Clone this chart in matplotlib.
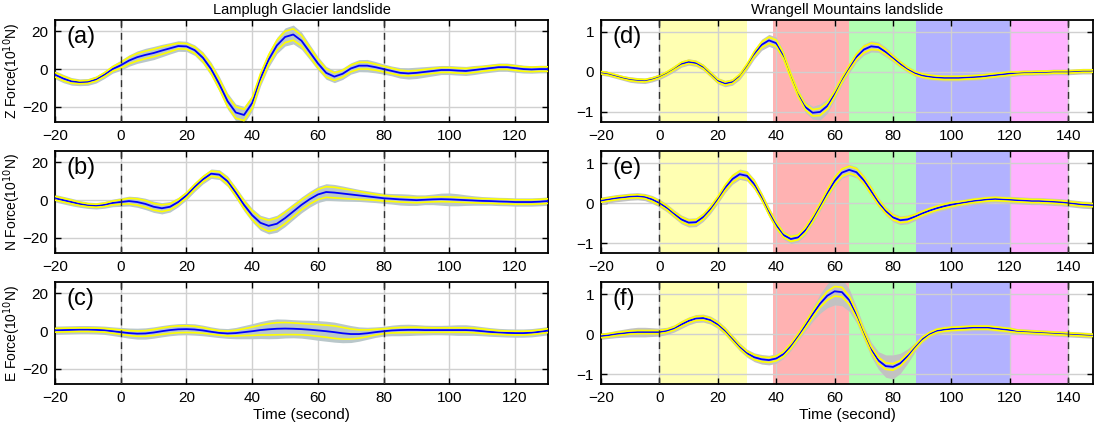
import numpy as np
import matplotlib
matplotlib.use("Agg")
import matplotlib.pyplot as plt

plt.rcParams['font.family'] = ['Liberation Sans', 'DejaVu Sans']

# ---- time axes ----
t_left = np.arange(-20, 130.01, 2.5)    # Lamplugh Glacier
t_right = np.arange(-20, 150.01, 2.5)   # Wrangell Mountains

# ---- Lamplugh Glacier (10^10 N) : mean, std (yellow), ensemble spread (grey) ----
z_mean = [-3, -5, -6.5, -7, -6.8, -5.5, -3, 0, 2, 4.5, 6.3, 7.5, 8.5, 9.8, 11, 12.2, 12,
          10, 6, 0, -8, -17, -23, -24.3, -18, -5, 5, 12.5, 17, 18.3, 15, 9, 3,
          -2, -4, -2.5, 0.3, 1.8, 1.8, 1, 0, -1, -2, -2.3, -2, -1.5, -1, -0.5,
          -0.5, -0.8, -1, -0.5, 0, 0.5, 1, 1, 0.5, 0, -0.2, 0, 0]
z_std = [1.2, 1.2, 1.0, 0.8, 0.8, 0.9, 1.0,
         1.2, 1.5, 1.8, 2, 2, 2, 2, 1.8, 1.5, 1.5,
         1.7, 2, 2.3, 2.6, 2.8, 3, 3, 2.8, 2.5, 2.5, 2.7, 3, 3, 2.8, 2.5, 2.3,
         2.2, 2, 1.8, 1.8, 1.8, 1.8, 1.6, 1.5,
         1.4, 1.4, 1.3, 1.3, 1.3, 1.3, 1.3, 1.3, 1.3, 1.3, 1.3, 1.2, 1.2, 1.2, 1.2, 1.2, 1.2, 1.2, 1.2, 1.2]
z_spread = [2.2, 2.2, 2, 1.8, 1.8, 1.9, 2,
            2.2, 2.7, 3, 3.3, 3.5, 3.5, 3.3, 3, 2.8, 2.7,
            2.8, 3.2, 3.6, 4, 4.3, 4.5, 4.5, 4.3, 4, 4, 4.3, 4.8, 5, 4.6, 4, 3.6,
            3.4, 3.2, 3, 3, 3.2, 3.3, 3, 2.7,
            2.6, 2.8, 3, 3, 2.8, 2.6, 2.4, 2.4, 2.4, 2.4, 2.4, 2.2, 2.2, 2.2, 2.2, 2.2, 2.1, 2, 2, 2]

n_mean = [1, 0, -1, -2, -2.7, -3, -2.5, -1.5, -1, -0.5, -1, -2, -3.5, -4.3, -3.5, -1, 2.5,
          7, 11, 14, 13.5, 10, 4, -2.5, -8, -12, -13.6, -12.5, -9.5, -6, -2.5, 0.5, 3,
          4.3, 4, 3.5, 3, 2.5, 2, 1.5, 1,
          0.7, 0.4, 0.2, 0, 0.2, 0.4, 0.5, 0.4, 0.2, 0, -0.2, -0.4, -0.5, -0.7, -0.8, -1, -1, -1, -0.8, -0.5]
n_std = [1, 1, 1, 0.9, 0.8, 0.8, 0.9,
         1, 1.2, 1.5, 1.7, 1.8, 1.8, 1.8, 1.6, 1.4, 1.3,
         1.3, 1.3, 1.4, 1.5, 1.6, 1.8, 2, 2.3, 2.6, 2.9, 3, 3, 2.8, 2.6, 2.6, 2.7,
         2.8, 2.8, 2.6, 2.4, 2.1, 1.8, 1.6, 1.5,
         1.4, 1.4, 1.4, 1.4, 1.3, 1.3, 1.3, 1.3, 1.3, 1.3, 1.2, 1.2, 1.2, 1.2, 1.2, 1.2, 1.2, 1.2, 1.2, 1.2]
n_spread = [2, 2, 2, 1.8, 1.7, 1.7, 1.8,
            2, 2.3, 2.6, 2.8, 3, 3, 3, 2.8, 2.5, 2.4,
            2.4, 2.4, 2.5, 2.6, 2.8, 3, 3.3, 3.6, 4, 4.3, 4.5, 4.5, 4.3, 4.2, 4.2, 4.3,
            4.4, 4.3, 4, 3.6, 3.2, 3, 2.8, 2.7,
            2.8, 3, 3, 2.8, 2.6, 2.8, 3.2, 3.4, 3.2, 2.8, 2.5, 2.3, 2.2, 2.2, 2.2, 2.2, 2.2, 2.2, 2.2, 2.2]

e_mean = [0.5, 0.6, 0.7, 0.8, 0.8, 0.7, 0.5, 0, -0.5, -1, -1.3, -1.2, -0.7, 0, 0.6, 1, 1.1,
          0.9, 0.4, -0.3, -0.9, -1.2, -1, -0.5, 0, 0.6, 1, 1.3, 1.4, 1.3, 1.1, 0.8, 0.4,
          0, -0.5, -1.1, -1.5, -1.5, -1.1, -0.5, 0,
          0.4, 0.6, 0.7, 0.7, 0.6, 0.6, 0.6, 0.6, 0.6, 0.6, 0.4, 0, -0.4, -0.7, -0.9, -1, -1, -0.8, -0.3, 0.3]
e_std = [1, 1, 1, 1, 1, 1, 1,
         1.1, 1.2, 1.3, 1.4, 1.5, 1.6, 1.7, 1.8, 1.8, 1.8,
         1.7, 1.5, 1.3, 1.2, 1.3, 1.5, 1.8, 2.2, 2.6, 3, 3.2, 3.2, 3.1, 3, 3, 3.1,
         3.2, 3.3, 3.1, 2.7, 2.2, 1.8, 1.5, 1.3,
         1.3, 1.4, 1.4, 1.4, 1.3, 1.2, 1.2, 1.2, 1.2, 1.2, 1.2, 1.2, 1.1, 1, 1, 1, 1, 1, 1, 1]
e_spread = [2.2, 2.2, 2.2, 2.2, 2.2, 2.2, 2.2,
            2.3, 2.5, 2.7, 2.9, 3, 3, 3, 3, 3, 3,
            3, 2.8, 2.6, 2.5, 2.6, 3, 3.5, 4, 4.5, 5, 5.2, 5, 4.8, 4.8, 5, 5.2,
            5.3, 5.3, 5, 4.5, 3.8, 3.2, 2.8, 2.6,
            2.8, 3, 3, 2.8, 2.6, 2.5, 2.5, 2.6, 2.8, 2.8, 2.6, 2.4, 2.3, 2.2, 2.2, 2.2, 2.2, 2.2, 2.2, 2.2]

# ---- Wrangell Mountains (normalised) ----
wz_mean = [-0.02, -0.05, -0.1, -0.15, -0.19, -0.21, -0.22, -0.18, -0.12,
           -0.03, 0.08, 0.2, 0.25, 0.22, 0.12, -0.05, -0.22,
           -0.29, -0.25, -0.1, 0.15, 0.45, 0.68, 0.79, 0.72,
           0.4, -0.1, -0.55, -0.88, -1.02, -1.0, -0.85, -0.55,
           -0.2, 0.1, 0.38, 0.56, 0.64, 0.62, 0.5, 0.35,
           0.2, 0.07, -0.03, -0.09, -0.12, -0.14, -0.15, -0.15,
           -0.15, -0.14, -0.13, -0.12, -0.1, -0.08, -0.06, -0.04,
           -0.03, -0.02, -0.02, -0.01, -0.01, 0, 0, 0,
           0.01, 0.02, 0.02, 0.03]
wz_std = [0.03] * 9 + [0.03, 0.03, 0.04, 0.04, 0.04, 0.04, 0.04, 0.04] + \
         [0.04, 0.04, 0.04, 0.05, 0.06, 0.07, 0.08, 0.08] + \
         [0.07, 0.06, 0.06, 0.07, 0.08, 0.09, 0.08, 0.07] + \
         [0.06, 0.06, 0.07, 0.08, 0.08, 0.07, 0.06, 0.05] + \
         [0.05, 0.04, 0.04, 0.04, 0.04, 0.04, 0.04, 0.04] + [0.04] * 8 + [0.03] * 8 + [0.03] * 4
wz_spread = [0.06, 0.06, 0.06, 0.06, 0.07, 0.07, 0.07, 0.07, 0.07] + \
            [0.07, 0.08, 0.08, 0.08, 0.08, 0.08, 0.08, 0.08] + \
            [0.08, 0.08, 0.09, 0.1, 0.12, 0.14, 0.15, 0.15] + \
            [0.14, 0.12, 0.12, 0.14, 0.16, 0.2, 0.18, 0.15] + \
            [0.12, 0.12, 0.13, 0.14, 0.14, 0.13, 0.12, 0.1] + \
            [0.09, 0.08, 0.08, 0.08, 0.08, 0.08, 0.08, 0.08] + [0.08] * 8 + [0.07] * 8 + [0.07] * 4

wn_mean = [0.06, 0.09, 0.12, 0.14, 0.16, 0.17, 0.15, 0.09, 0.0,
           -0.12, -0.27, -0.41, -0.49, -0.48, -0.35, -0.15, 0.1,
           0.38, 0.6, 0.72, 0.68, 0.47, 0.15, -0.22, -0.55,
           -0.8, -0.9, -0.86, -0.68, -0.4, -0.08, 0.25, 0.55,
           0.76, 0.83, 0.77, 0.57, 0.3, 0.02, -0.2, -0.36,
           -0.43, -0.41, -0.34, -0.26, -0.19, -0.13, -0.08, -0.04,
           -0.01, 0.02, 0.05, 0.07, 0.09, 0.1, 0.09, 0.08,
           0.07, 0.06, 0.05, 0.05, 0.04, 0.03, 0.02, 0.0,
           -0.02, -0.04, -0.05, -0.06]
wn_std = [0.04, 0.04, 0.04, 0.04, 0.04, 0.04, 0.04, 0.05, 0.05] + \
         [0.05, 0.05, 0.06, 0.06, 0.06, 0.06, 0.06, 0.06] + \
         [0.07, 0.08, 0.08, 0.08, 0.08, 0.07, 0.07, 0.07] + \
         [0.06, 0.06, 0.06, 0.07, 0.07, 0.07, 0.08, 0.09] + \
         [0.09, 0.09, 0.09, 0.08, 0.08, 0.07, 0.06, 0.06] + \
         [0.06, 0.06, 0.05, 0.05, 0.05, 0.05, 0.05, 0.05] + [0.04] * 8 + [0.04] * 8 + [0.04] * 4
wn_spread = [0.09, 0.09, 0.09, 0.09, 0.09, 0.09, 0.09, 0.1, 0.1] + \
            [0.1, 0.1, 0.11, 0.11, 0.11, 0.11, 0.11, 0.11] + \
            [0.12, 0.13, 0.13, 0.13, 0.13, 0.12, 0.12, 0.12] + \
            [0.11, 0.11, 0.11, 0.12, 0.12, 0.12, 0.13, 0.14] + \
            [0.14, 0.14, 0.14, 0.13, 0.13, 0.12, 0.11, 0.11] + \
            [0.11, 0.11, 0.1, 0.1, 0.1, 0.1, 0.1, 0.1] + [0.09] * 8 + [0.09] * 8 + [0.09] * 4

we_mean = [-0.05, -0.03, 0.0, 0.02, 0.04, 0.05, 0.05, 0.05, 0.05,
           0.08, 0.14, 0.24, 0.33, 0.39, 0.4, 0.35, 0.24,
           0.08, -0.12, -0.32, -0.48, -0.58, -0.63, -0.65, -0.61,
           -0.5, -0.3, -0.05, 0.22, 0.5, 0.76, 0.96, 1.07,
           1.05, 0.85, 0.48, 0.03, -0.38, -0.66, -0.8, -0.82,
           -0.73, -0.55, -0.33, -0.13, 0.0, 0.08, 0.11, 0.13,
           0.14, 0.15, 0.16, 0.16, 0.16, 0.14, 0.12, 0.1,
           0.07, 0.06, 0.05, 0.04, 0.03, 0.02, 0.01, 0.0,
           -0.01, -0.02, -0.03, -0.03]
we_std = [0.04] * 9 + [0.04, 0.04, 0.05, 0.05, 0.05, 0.05, 0.05, 0.05] + \
         [0.05, 0.05, 0.05, 0.05, 0.06, 0.06, 0.06, 0.06] + \
         [0.06, 0.06, 0.06, 0.07, 0.08, 0.09, 0.11, 0.12] + \
         [0.12, 0.1, 0.08, 0.07, 0.07, 0.08, 0.08, 0.08] + \
         [0.07, 0.06, 0.05, 0.05, 0.04, 0.04, 0.04, 0.04] + [0.04] * 8 + [0.03] * 8 + [0.03] * 4
we_spread = [0.08, 0.08, 0.09, 0.1, 0.11, 0.12, 0.12, 0.11, 0.1] + \
            [0.09, 0.09, 0.1, 0.1, 0.1, 0.1, 0.1, 0.1] + \
            [0.1, 0.1, 0.1, 0.1, 0.11, 0.12, 0.12, 0.12] + \
            [0.11, 0.11, 0.12, 0.14, 0.18, 0.24, 0.3, 0.34] + \
            [0.34, 0.28, 0.2, 0.16, 0.18, 0.22, 0.28, 0.3] + \
            [0.25, 0.18, 0.12, 0.1, 0.09, 0.09, 0.09, 0.09] + [0.08] * 8 + [0.07] * 8 + [0.07] * 4

# stage shading for Wrangell (start, end, colour)
stages = [(0, 30, (1, 1, 0)), (39, 65, (1, 0, 0)), (65, 88, (0, 1, 0)),
          (88, 120, (0, 0, 1)), (120, 140, (1, 0, 1))]

left_panels = [("(a)", "Z", z_mean, z_std, z_spread),
               ("(b)", "N", n_mean, n_std, n_spread),
               ("(c)", "E", e_mean, e_std, e_spread)]
right_panels = [("(d)", wz_mean, wz_std, wz_spread),
                ("(e)", wn_mean, wn_std, wn_spread),
                ("(f)", we_mean, we_std, we_spread)]


def style_axis(ax):
    ax.tick_params(direction="in", top=True, right=True, length=4, width=1,
                   labelsize=11, pad=5)
    ax.grid(True, color="#d0d0d0", linewidth=1)
    for s in ax.spines.values():
        s.set_linewidth(1.3)


def draw(ax, t, m, sd, sp, grey):
    m = np.array(m)
    sd = np.array(sd)
    sp = np.array(sp)
    ax.fill_between(t, m - sp, m + sp, color=grey, lw=0, zorder=2)
    ax.plot(t, m, color="blue", lw=1.3, zorder=3)
    ax.plot(t, m + sd, color="#ffff00", lw=1.2, zorder=4)
    ax.plot(t, m - sd, color="#ffff00", lw=1.2, zorder=4)


fig = plt.figure(figsize=(10.94, 4.34), dpi=100)
bottoms = [0.719, 0.417, 0.115]
h = 0.235

for i, (lab, comp, m, sd, sp) in enumerate(left_panels):
    ax = fig.add_axes([0.0503, bottoms[i], 0.4506, h])
    draw(ax, t_left, m, sd, sp, "#b9c7ca")
    for x in [0, 80]:
        ax.axvline(x, color="#333333", lw=1, ls=(0, (5, 3.5)), zorder=5)
    ax.set_xlim(-20, 130)
    ax.set_ylim(-28, 26)
    ax.set_xticks(range(-20, 121, 20))
    ax.set_yticks([-20, 0, 20])
    style_axis(ax)
    ax.set_ylabel(comp + " Force(10$^{10}$N)", fontsize=10)
    ax.yaxis.set_label_coords(-0.065, 0.5)
    ax.text(0.023, 0.83, lab, transform=ax.transAxes, fontsize=17, va="center")
    if i == 2:
        ax.set_xlabel("Time (second)", fontsize=11, labelpad=2)

for i, (lab, m, sd, sp) in enumerate(right_panels):
    ax = fig.add_axes([0.5494, bottoms[i], 0.4497, h])
    for x0, x1, c in stages:
        ax.axvspan(x0, x1, color=c, alpha=0.3, lw=0, zorder=1)
    draw(ax, t_right, m, sd, sp, "#c2c2c2")
    for x in [0, 140]:
        ax.axvline(x, color="#333333", lw=1, ls=(0, (5, 3.5)), zorder=5)
    ax.set_xlim(-20, 148.5)
    ax.set_ylim(-1.25, 1.3)
    ax.set_xticks(range(-20, 141, 20))
    ax.set_yticks([-1, 0, 1])
    style_axis(ax)
    ax.text(0.023, 0.83, lab, transform=ax.transAxes, fontsize=17, va="center")
    if i == 2:
        ax.set_xlabel("Time (second)", fontsize=11, labelpad=2)

fig.text(0.2756, 0.978, "Lamplugh Glacier landslide", ha="center", va="center", fontsize=10.5)
fig.text(0.7742, 0.978, "Wrangell Mountains landslide", ha="center", va="center", fontsize=10.5)

fig.savefig("out.png", dpi=100)
